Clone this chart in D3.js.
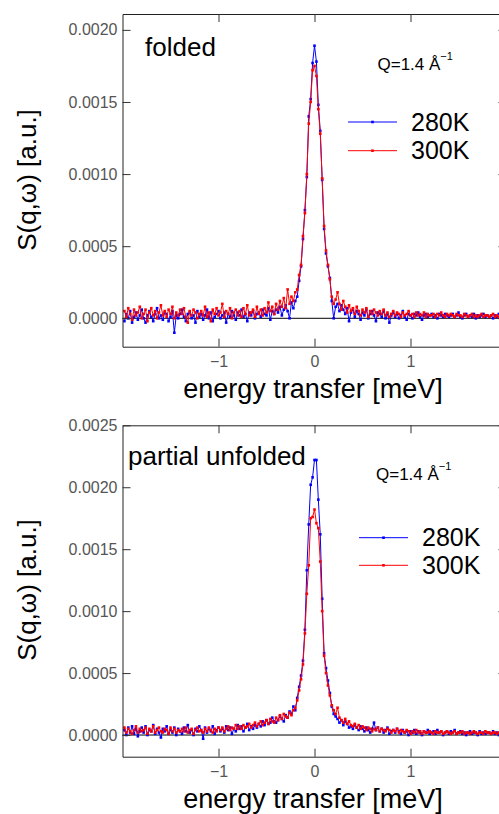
<!DOCTYPE html>
<html>
  <head>
    <meta charset="utf-8">
    <title>S(q,w) folded / partial unfolded</title>
    <script src="https://cdn.jsdelivr.net/npm/d3@7"></script>
    <style type="text/css">
      body { margin: 0; background: #fff; }
      svg { display: block; }
      .tick text { font-family: "Liberation Sans", Arial, sans-serif; font-size: 16px; fill: #555; }
    </style>
  </head>
  <body>
    <script>
    //energy bins in meV (uniform 0.02 meV grid, -1.98 .. 1.98)
    var energy = d3.range(-1.98, 1.99, 0.02);

    //intensities, in units of 1e-5
    var folded280 = [
      -2, 3, 0, 5, -3, 1, 4, -1, 2, 6,
      0, -3, 2, 5, 1, -2, 3, 7, 0, 2,
      -1, 4, 3, -2, 1, 5, -10, 2, 0, 3,
      6, 1, -2, 3, 4, 0, 2, -3, 5, 1,
      3, -1, 2, 6, 0, 4, -2, 1, 3, 5,
      0, 2, 4, -3, 3, 1, 5, 2, -1, 4,
      2, 6, 1, 3, -2, 4, 2, 5, 0, 3,
      4, 1, 6, 3, 2, 7, -1, 5, 3, 6,
      4, 8, 2, 6, 9, 5, 0, 11, 7, 12,
      15, 26, 36, 55, 75, 98, 140, 152, 177,
      189,
      178, 148, 130, 96, 62, 45, 36, 28, 12, 0,
      8, 10, 5, 9, 6, 3, 7, -2, 4, 6,
      1, 5, 3, -1, 4, 2, 6, 0, 3, 5,
      2, -2, 4, 3, 1, 5, 0, 3, -3, 2,
      4, 1, 3, 0, 2, 5, 1, -1, 3, 2,
      0, 3, 2, 4, 1, -1, 2, 3, 1, 2,
      3, 1, 2, 0, 3, 2, 1, 3, 2, 1,
      2, 3, 1, 2, 4, 1, 0, 2, 3, 1,
      2, 1, 3, 0, 2, 1, 2, 3, 1, 2,
      1, 2, 0, 2, 1, 3, 1, 2, 2
    ];
    var folded300 = [
      5, 1, 7, 3, -1, 6, 2, 4, 8, 0,
      3, 6, -2, 4, 7, 2, 5, 0, 4, 9,
      2, 5, 1, 6, 3, 8, 0, 4, 2, 6,
      3, 7, 1, -3, 5, 2, 6, 4, 0, 3,
      5, 2, 8, 1, 4, -2, 6, 3, 7, 2,
      4, 10, 1, 5, 3, 7, 0, 4, 6, 2,
      5, 1, 7, 3, 9, 2, 4, 6, 1, 8,
      3, 6, 2, 7, 4, 11, 5, 8, 3, 10,
      6, 12, 8, 14, 7, 20, 10, 15, 12, 18,
      20, 30, 37, 57, 73, 100, 135, 150, 172,
      175,
      168, 145, 128, 97, 64, 47, 37, 27, 15, 10,
      13, 18, 10, 6, 12, 8, 4, 9, 5, 7,
      3, 8, 5, 2, 6, 4, 7, 1, 5, 3,
      6, 4, 2, 5, 3, 6, 2, 4, 1, 3,
      5, 2, 4, 3, 1, 4, 2, 3, 5, 2,
      3, 1, 4, 2, 3, 2, 4, 1, 3, 2,
      2, 3, 1, 3, 2, 4, 2, 1, 3, 2,
      3, 2, 1, 3, 2, 2, 1, 3, 2, 1,
      2, 3, 1, 2, 1, 2, 3, 1, 2, 2,
      1, 2, 3, 1, 2, 1, 2, 2, 1
    ];
    var unfolded280 = [
      4, 0, 6, 2, 7, 1, 5, -1, 3, 6,
      2, 7, 0, 4, 3, 8, 1, 5, 2, -2,
      5, 3, 7, 1, 4, 2, 6, 0, 5, 3,
      1, 6, 3, 8, 2, 4, 0, 5, 3, 7,
      4, -3, 6, 2, 5, 3, 7, 1, 4, 6,
      3, 5, 2, 7, 4, 6, 1, 5, 3, 8,
      5, 7, 3, 6, 9, 4, 7, 5, 8, 6,
      9, 7, 11, 8, 12, 9, 10, 14, 11, 10,
      12, 15, 13, 11, 16, 14, 19, 17, 23, 20,
      30, 39, 48, 60, 85, 133, 170, 202, 208,
      222,
      222, 190, 162, 110, 66, 54, 44, 34, 23, 17,
      15, 13, 10, 12, 8, 11, 9, 6, 7, 5,
      8, 6, 4, 7, 5, 3, 6, 4, 2, 5,
      10, 4, 6, 3, 5, 2, 4, 6, 1, 3,
      4, 2, 5, 3, 1, 4, 2, 3, 0, 3,
      2, 4, 1, 3, 2, 0, 3, 2, 4, 1,
      2, 3, 1, 4, 2, 3, 0, 2, 3, 1,
      3, 2, 4, 1, 2, 3, 1, 2, 0, 2,
      3, 1, 2, 2, 0, 3, 1, 2, 1, 2,
      2, 1, 3, 1, 2, 0, 2, 1, 2
    ];
    var unfolded300 = [
      6, 2, 5, 3, 1, 4, 7, 2, 5, 3,
      4, 6, 1, 5, 3, 7, 2, 4, 6, 3,
      2, 5, 4, 1, 6, 3, 5, 2, 4, 3,
      5, 3, 6, 2, 4, 5, 1, 4, 6, 3,
      4, 2, 5, 3, 6, 4, 2, 5, 3, 6,
      4, 6, 3, 5, 7, 4, 6, 5, 8, 5,
      7, 5, 8, 6, 7, 9, 6, 8, 10, 7,
      9, 11, 8, 10, 12, 9, 13, 11, 10, 14,
      12, 16, 13, 17, 15, 14, 18, 16, 20, 22,
      28, 36, 45, 57, 82, 114, 137, 175, 176,
      182,
      171, 167, 140, 100, 64, 50, 40, 32, 24, 20,
      17, 22, 14, 12, 10, 13, 9, 11, 8, 7,
      9, 6, 8, 5, 7, 6, 4, 6, 5, 3,
      5, 4, 6, 3, 5, 4, 3, 5, 4, 2,
      4, 3, 5, 2, 4, 3, 2, 4, 3, 1,
      3, 2, 4, 2, 3, 1, 3, 2, 2, 3,
      2, 1, 3, 2, 2, 3, 1, 2, 3, 2,
      1, 2, 3, 1, 2, 2, 3, 1, 2, 2,
      1, 2, 3, 2, 1, 2, 2, 1, 3, 2,
      2, 1, 2, 2, 1, 2, 1, 2, 2
    ];

    var seriesNames = ["280K", "300K"];
    var seriesColors = ["#0000ff", "#ff0000"];
    var xTicks = [-1, 0, 1];
    var foldedTicks = [0, 0.0005, 0.0010, 0.0015, 0.0020];
    var unfoldedTicks = [0, 0.0005, 0.0010, 0.0015, 0.0020, 0.0025];

    var svgWidth = 499;
    var svgHeight = 814;
    var font = "'Liberation Sans', Arial, sans-serif";

    var svg = d3.select("body")
      .append("svg")
        .attr("width", svgWidth)
        .attr("height", svgHeight);

    //x scale is the same for both panels; right edge runs off the picture
    var xScale = d3.scaleLinear()
      .domain([-2, 2])
      .range([122.5, 506.5]);

    function drawPanel(p) {
      var yScale = d3.scaleLinear()
        .domain(p.yDomain)
        .range([p.bottom, p.top]);

      var g = svg.append("g");

      g.append("clipPath")
          .attr("id", "clip" + p.id)
        .append("rect")
          .attr("x", xScale.range()[0])
          .attr("y", p.top)
          .attr("width", xScale.range()[1] - xScale.range()[0])
          .attr("height", p.bottom - p.top);

      //zero line
      g.append("line")
        .attr("x1", xScale.range()[0]).attr("x2", xScale.range()[1])
        .attr("y1", yScale(0)).attr("y2", yScale(0))
        .attr("stroke", "#000").attr("stroke-width", 1);

      var plot = g.append("g").attr("clip-path", "url(#clip" + p.id + ")");

      var line = d3.line()
        .x(function(d, i) { return xScale(energy[i]); })
        .y(function(d) { return yScale(d * 1e-5); });

      p.series.forEach(function(vals, k) {
        plot.append("path")
          .datum(vals)
          .attr("d", line)
          .attr("fill", "none")
          .attr("stroke", seriesColors[k])
          .attr("stroke-width", 1);
        plot.selectAll("rect.m" + k)
          .data(vals)
          .enter()
          .append("rect")
          .attr("class", "m" + k)
          .attr("x", function(d, i) { return xScale(energy[i]) - 1.3; })
          .attr("y", function(d) { return yScale(d * 1e-5) - 1.3; })
          .attr("width", 2.6)
          .attr("height", 2.6)
          .attr("fill", seriesColors[k]);
      });

      //axes, ticks pointing inward
      g.append("g")
        .attr("transform", "translate(0," + p.bottom + ")")
        .call(d3.axisBottom(xScale).tickValues(xTicks).tickSizeInner(-8).tickSizeOuter(0).tickPadding(9)
          .tickFormat(d3.format("d")));
      g.append("g")
        .attr("transform", "translate(0," + p.top + ")")
        .call(d3.axisTop(xScale).tickValues(xTicks).tickSizeInner(-8).tickSizeOuter(0).tickFormat(""));
      g.append("g")
        .attr("transform", "translate(" + xScale.range()[0] + ",0)")
        .call(d3.axisLeft(yScale).tickValues(p.yTicks).tickSizeInner(-8).tickSizeOuter(0).tickPadding(5)
          .tickFormat(d3.format(".4f")));
      g.append("g")
        .attr("transform", "translate(" + xScale.range()[1] + ",0)")
        .call(d3.axisRight(yScale).tickValues(p.yTicks).tickSizeInner(-8).tickSizeOuter(0).tickFormat(""));

      g.selectAll(".domain").attr("stroke", "#222");
      g.selectAll(".tick line").attr("stroke", "#333");

      //labels
      g.append("text")
        .attr("x", 313).attr("y", p.bottom + 51)
        .attr("text-anchor", "middle")
        .attr("font-family", font).attr("font-size", "27px")
        .text("energy transfer [meV]");

      g.append("text")
        .attr("transform", "translate(36," + p.yLabelY + ") rotate(-90)")
        .attr("text-anchor", "middle")
        .attr("font-family", font).attr("font-size", "26px")
        .text("S(q,\u03c9) [a.u.]");

      g.append("text")
        .attr("x", p.titleX).attr("y", p.titleY)
        .attr("font-family", font).attr("font-size", "26px")
        .text(p.title);

      var q = g.append("text")
        .attr("x", p.qX).attr("y", p.qY)
        .attr("font-family", font).attr("font-size", "17px")
        .text("Q=1.4 \u00c5");
      q.append("tspan")
        .attr("dy", -10).attr("font-size", "11px")
        .text("\u22121");

      //legend
      seriesNames.forEach(function(name, k) {
        var ly = p.legY + k * p.legStep;
        g.append("line")
          .attr("x1", p.legX).attr("x2", p.legX + 49)
          .attr("y1", ly).attr("y2", ly)
          .attr("stroke", seriesColors[k]).attr("stroke-width", 1);
        g.append("rect")
          .attr("x", p.legX + 24.5 - 1.3).attr("y", ly - 1.3)
          .attr("width", 2.6).attr("height", 2.6)
          .attr("fill", seriesColors[k]);
        g.append("text")
          .attr("x", p.legX + 63).attr("y", ly + 8.5)
          .attr("font-family", font).attr("font-size", "25px")
          .text(name);
      });
    }

    drawPanel({
      id: 1, top: 14, bottom: 346.7, yDomain: [-0.000197, 0.00211], yTicks: foldedTicks,
      series: [folded280, folded300], title: "folded", titleX: 145, titleY: 56,
      qX: 377.5, qY: 70, legX: 348, legY: 122, legStep: 28.7, yLabelY: 180
    });
    drawPanel({
      id: 2, top: 425.3, bottom: 756.7, yDomain: [-0.000175, 0.0025], yTicks: unfoldedTicks,
      series: [unfolded280, unfolded300], title: "partial unfolded", titleX: 128, titleY: 465,
      qX: 376, qY: 480, legX: 359, legY: 537.7, legStep: 27.6, yLabelY: 590
    });
    </script>
  </body>
</html>
